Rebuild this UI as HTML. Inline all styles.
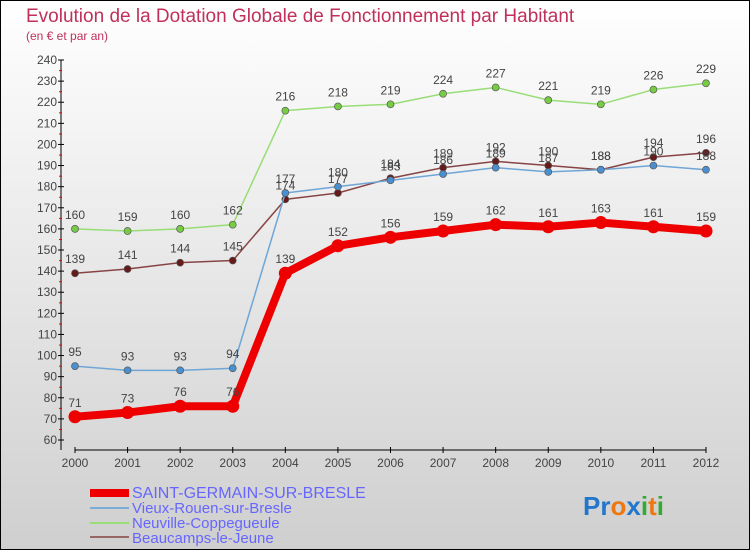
<!DOCTYPE html>
<html><head><meta charset="utf-8"><style>
body{margin:0;width:750px;height:550px;overflow:hidden;font-family:"Liberation Sans",sans-serif}
</style></head><body>
<svg id="c" width="750" height="550" xmlns="http://www.w3.org/2000/svg">
<defs><linearGradient id="bg" x1="0" y1="0" x2="0" y2="1"><stop offset="0" stop-color="#ffffff"/><stop offset="1" stop-color="#cfcfcf"/></linearGradient></defs>
<rect x="0.5" y="0.5" width="749" height="549" fill="url(#bg)" stroke="#000"/>
<text x="26" y="22" font-size="19" fill="#c0305a">Evolution de la Dotation Globale de Fonctionnement par Habitant</text>
<text x="26" y="40" font-size="12" fill="#c0305a">(en € et par an)</text>
<g id="axes"></g><g id="series"></g>
<g font-size="15" fill="#6666ff">
<rect x="90" y="489" width="39" height="8" fill="#e00"/>
<text x="132" y="498" font-size="16" fill="#6666ff">SAINT-GERMAIN-SUR-BRESLE</text>
<rect x="90" y="507" width="39" height="2" fill="#7aaed6"/>
<text x="132" y="513" fill="#6666ff">Vieux-Rouen-sur-Bresle</text>
<rect x="90" y="522" width="39" height="2" fill="#99dd77"/>
<text x="132" y="528" fill="#6666ff">Neuville-Coppegueule</text>
<rect x="90" y="536" width="39" height="2" fill="#996666"/>
<text x="132" y="543" fill="#6666ff">Beaucamps-le-Jeune</text>
</g>
<text x="583" y="515" font-size="26" font-weight="bold"><tspan fill="#2277cc">Pr</tspan><tspan fill="#ee7711">o</tspan><tspan fill="#2277cc">x</tspan><tspan fill="#33aa33">i</tspan><tspan fill="#ee7711">t</tspan><tspan fill="#33aa33">i</tspan></text>
</svg>
<script>
const years=[2000,2001,2002,2003,2004,2005,2006,2007,2008,2009,2010,2011,2012];
const yTicks=[60,70,80,90,100,110,120,130,140,150,160,170,180,190,200,210,220,230,240];
const sgsb=[71,73,76,76,139,152,156,159,162,161,163,161,159];
const vieux=[95,93,93,94,177,180,183,186,189,187,188,190,188];
const neuville=[160,159,160,162,216,218,219,224,227,221,219,226,229];
const beaucamps=[139,141,144,145,174,177,184,189,192,190,188,194,196];
const NS="http://www.w3.org/2000/svg";
const xS=i=>75+i*(706-75)/(years.length-1);
const yS=v=>440-(v-60)*380/180;
function mk(tag,attrs,parent){const e=document.createElementNS(NS,tag);for(const k in attrs)e.setAttribute(k,attrs[k]);parent.appendChild(e);return e;}
const ax=document.getElementById('axes');
let e=mk('line',{x1:61,y1:yS(240),x2:61,y2:450,stroke:'#000'},ax);


e=mk('line',{x1:75,y1:450,x2:706,y2:450,stroke:'#000'},ax);


yTicks.forEach(v=>{
 const y=yS(v);
 let t=mk('line',{x1:58,y1:y,x2:64,y2:y,stroke:'#000'},ax);
 
 
 if(v<240){let m=mk('line',{x1:59,y1:y-10.5,x2:62,y2:y-10.5,stroke:'#e00'},ax);
 
 }
 let l=mk('text',{x:57,y:y+4,'font-size':12,fill:'#444','text-anchor':'end'},ax);
 l.textContent=v;
 
 
});
years.forEach((yr,i)=>{
 const x=xS(i);
 let t=mk('line',{x1:x,y1:447,x2:x,y2:453,stroke:'#000'},ax);
 
 
 let l=mk('text',{x:x,y:467,'font-size':12,fill:'#444','text-anchor':'middle'},ax);
 l.textContent=yr;
 
 
});
const sg=document.getElementById('series');
function series(vals,name,color,w,r,fill,lblSize){
 const g=mk('g',{},sg);
 
 
 const pl=mk('polyline',{points:vals.map((v,i)=>xS(i)+','+yS(v)).join(' '),fill:'none',stroke:color,'stroke-width':w,'stroke-linejoin':'round'},g);
 
 
 vals.forEach((v,i)=>{
  const c=mk('circle',{cx:xS(i),cy:yS(v),r:r,fill:fill,stroke:w>3?'none':'#555','stroke-width':0.7},g);
  
  
  const t=mk('text',{x:xS(i),y:yS(v)-10,'font-size':lblSize,fill:'#444','text-anchor':'middle'},g);
  t.textContent=v;
  
  
 });
}
series(neuville,'neuville','#99dd77',1.5,3.5,'#77cc44',12);
series(beaucamps,'beaucamps','#884444',1.5,3.5,'#661a1a',12);
series(vieux,'vieux-rouen','#6fa6d6',1.5,3.5,'#4a90d0',12);
series(sgsb,'saint-germain','#ee0000',8,6.5,'#ee0000',12);
</script>
</body></html>
